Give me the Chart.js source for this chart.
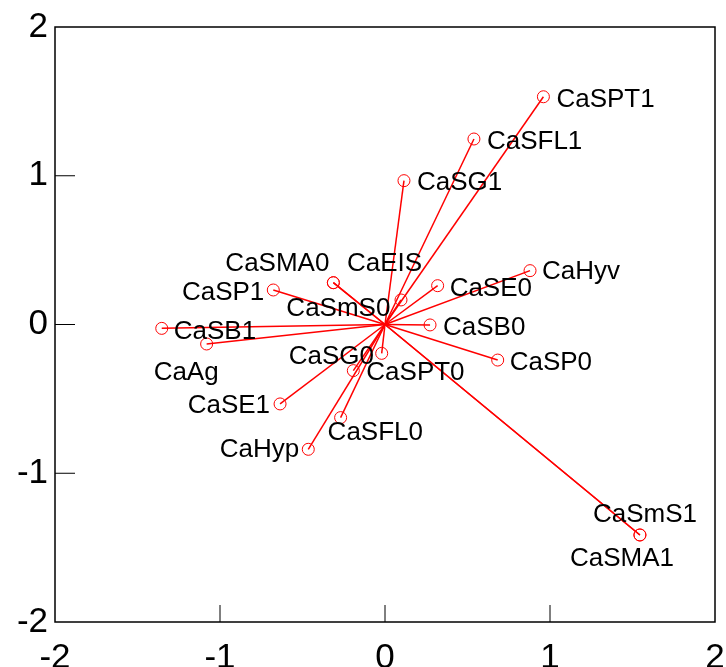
<!DOCTYPE html>
<html>
<head>
<meta charset="utf-8">
<script src="https://cdn.jsdelivr.net/npm/chart.js@4/dist/chart.umd.min.js"></script>
<style>
  html, body { margin: 0; padding: 0; background: #fff; }
</style>
</head>
<body>
<canvas id="biplot" width="726" height="667"></canvas>
<script>
const names = ["CaSPT1", "CaSFL1", "CaSG1", "CaHyv", "CaSE0", "CaEIS", "CaSMA0", "CaSmS0",
  "CaSP1", "CaSB1", "CaAg", "CaSB0", "CaSP0", "CaSPT0", "CaSG0", "CaSE1", "CaSFL0", "CaHyp",
  "CaSmS1", "CaSMA1"];
const xValues = [0.960, 0.539, 0.115, 0.879, 0.319, 0.097, -0.313, -0.313,
  -0.677, -1.353, -1.081, 0.273, 0.683, -0.192, -0.020, -0.636, -0.269, -0.465,
  1.545, 1.545];
const yValues = [1.531, 1.247, 0.967, 0.362, 0.261, 0.165, 0.281, 0.281,
  0.232, -0.026, -0.131, -0.003, -0.239, -0.310, -0.194, -0.534, -0.626, -0.839,
  -1.415, -1.415];
const axisTicks = [-2, -1, 0, 1, 2];

// where each label sits next to its marker, in pixels: [dx, dy, align]
const labelOffsets = [
  [13, 1, "left"], [13, 1, "left"], [13, 0, "left"], [12, -1, "left"], [12, 1, "left"],
  [-54, -38, "left"], [-108, -21, "left"], [-47, 24, "left"],
  [-9, 1, "right"], [12, 2, "left"], [-53, 27, "left"], [13, 1, "left"], [12, 1, "left"],
  [13, 0, "left"], [-93, 2, "left"], [-10, 0, "right"], [-13, 13, "left"], [-9, -1, "right"],
  [-47, -22, "left"], [-70, 22, "left"]
];

const labelFont = "26px 'Liberation Sans', Arial, sans-serif";

const framePlugin = {
  id: "frame",
  afterDatasetsDraw(chart) {
    const { ctx, chartArea: a, scales: { x, y } } = chart;
    ctx.save();
    ctx.strokeStyle = "#000";
    ctx.lineWidth = 1.5;
    ctx.strokeRect(a.left, a.top, a.right - a.left, a.bottom - a.top);
    ctx.lineWidth = 1;
    ctx.beginPath();
    axisTicks.slice(1, -1).forEach(v => {
      const px = x.getPixelForValue(v);
      ctx.moveTo(px, a.bottom);
      ctx.lineTo(px, a.bottom - 17);
      const py = y.getPixelForValue(v);
      ctx.moveTo(a.left, py);
      ctx.lineTo(a.left + 20, py);
    });
    ctx.stroke();
    ctx.restore();
  }
};

const labelPlugin = {
  id: "pointLabels",
  afterDatasetsDraw(chart) {
    const { ctx, scales: { x, y } } = chart;
    ctx.save();
    ctx.font = labelFont;
    ctx.fillStyle = "#000";
    ctx.textBaseline = "alphabetic";
    names.forEach((name, i) => {
      const [dx, dy, align] = labelOffsets[i];
      ctx.textAlign = align;
      ctx.fillText(name, x.getPixelForValue(xValues[i]) + dx, y.getPixelForValue(yValues[i]) + dy + 9);
    });
    ctx.restore();
  }
};

const datasets = names.map((name, i) => ({
  label: name,
  data: [{ x: 0, y: 0 }, { x: xValues[i], y: yValues[i] }],
  showLine: true,
  borderColor: "#ff0000",
  borderWidth: 1.5,
  pointRadius: [0, 6],
  pointBorderColor: "#ff0000",
  pointBackgroundColor: "rgba(0,0,0,0)",
  pointBorderWidth: 1
}));

const tickFont = { family: "'Liberation Sans', Arial, sans-serif", size: 35 };

new Chart(document.getElementById("biplot"), {
  type: "scatter",
  data: { datasets },
  options: {
    responsive: false,
    animation: false,
    events: [],
    layout: { padding: { top: 27, right: 11, left: 0, bottom: 0 } },
    plugins: { legend: { display: false }, tooltip: { enabled: false } },
    scales: {
      x: {
        type: "linear",
        min: -2,
        max: 2,
        afterBuildTicks: s => { s.ticks = axisTicks.map(v => ({ value: v })); },
        afterFit: s => { s.height = 45; s.paddingLeft = 0; s.paddingRight = 0; },
        grid: { display: false, drawTicks: false },
        border: { display: false },
        ticks: { font: tickFont, color: "#000", padding: 15, maxRotation: 0, autoSkip: false }
      },
      y: {
        type: "linear",
        min: -2,
        max: 2,
        afterBuildTicks: s => { s.ticks = axisTicks.map(v => ({ value: v })); },
        afterFit: s => { s.width = 55; s.paddingTop = 0; s.paddingBottom = 0; },
        grid: { display: false, drawTicks: false },
        border: { display: false },
        ticks: { font: tickFont, color: "#000", padding: 7, autoSkip: false }
      }
    }
  },
  plugins: [framePlugin, labelPlugin]
});
</script>
</body>
</html>
